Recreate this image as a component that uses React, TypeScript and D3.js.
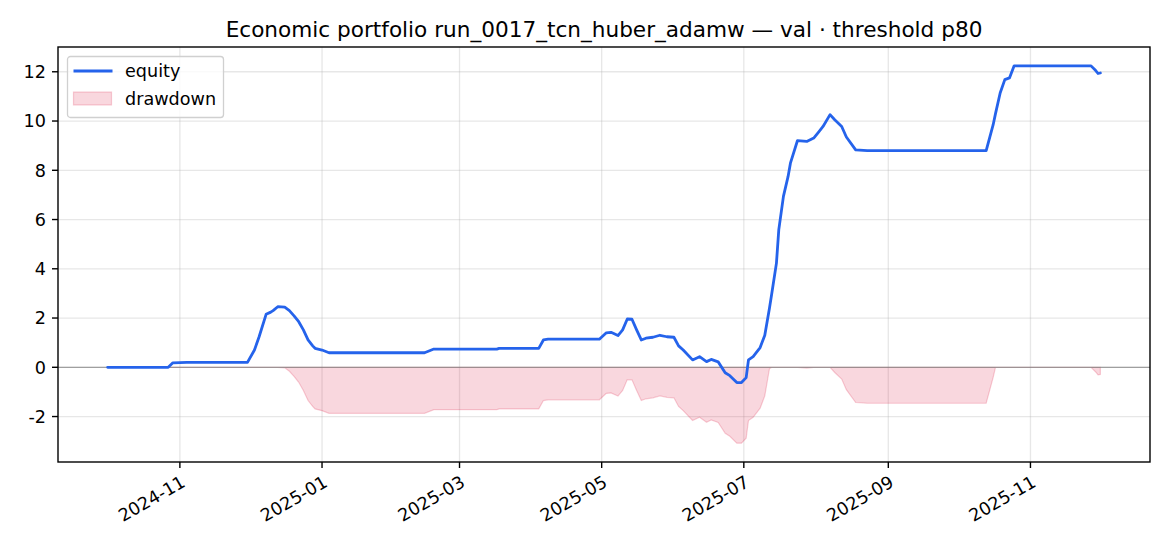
import React, { useEffect, useRef } from "react";
import * as d3 from "d3";

const dates = [
  "2024-10-01", "2024-10-27", "2024-10-29", "2024-11-04", "2024-11-30",
  "2024-12-03", "2024-12-05", "2024-12-08", "2024-12-10", "2024-12-11",
  "2024-12-13", "2024-12-16", "2024-12-18", "2024-12-20", "2024-12-22",
  "2024-12-24", "2024-12-26", "2024-12-28", "2024-12-29", "2025-01-01",
  "2025-01-04", "2025-02-14", "2025-02-18", "2025-03-17", "2025-03-18",
  "2025-04-04", "2025-04-06", "2025-04-08", "2025-04-30", "2025-05-03",
  "2025-05-05", "2025-05-08", "2025-05-10", "2025-05-12", "2025-05-14",
  "2025-05-16", "2025-05-18", "2025-05-20", "2025-05-23", "2025-05-26",
  "2025-05-29", "2025-06-01", "2025-06-03", "2025-06-05", "2025-06-09",
  "2025-06-12", "2025-06-15", "2025-06-17", "2025-06-20", "2025-06-23",
  "2025-06-25", "2025-06-28", "2025-06-30", "2025-07-02", "2025-07-03",
  "2025-07-05", "2025-07-08", "2025-07-10", "2025-07-12", "2025-07-13",
  "2025-07-15", "2025-07-16", "2025-07-18", "2025-07-20", "2025-07-21",
  "2025-07-24", "2025-07-28", "2025-07-31", "2025-08-02", "2025-08-04",
  "2025-08-07", "2025-08-09", "2025-08-12", "2025-08-14", "2025-08-18",
  "2025-08-23", "2025-10-13", "2025-10-16", "2025-10-17", "2025-10-19",
  "2025-10-21", "2025-10-23", "2025-10-25", "2025-11-27", "2025-11-29",
  "2025-11-30", "2025-12-01",
];

const equity = [
  0.0, 0.0, 0.18, 0.2, 0.2,
  0.7, 1.24, 2.15, 2.24, 2.3,
  2.46, 2.44, 2.3, 2.09, 1.85,
  1.52, 1.11, 0.87, 0.77, 0.7,
  0.59, 0.59, 0.74, 0.74, 0.77,
  0.77, 1.11, 1.14, 1.14, 1.4,
  1.42, 1.29, 1.52, 1.96, 1.95,
  1.52, 1.11, 1.18, 1.22, 1.3,
  1.24, 1.22, 0.87, 0.7, 0.3,
  0.43, 0.23, 0.32, 0.22, -0.22,
  -0.34, -0.62, -0.62, -0.42, 0.3,
  0.43, 0.8, 1.3, 2.4, 3.0,
  4.23, 5.58, 6.94, 7.75, 8.29,
  9.2, 9.17, 9.31, 9.54, 9.78,
  10.26, 10.05, 9.78, 9.35, 8.83,
  8.8, 8.8, 9.85, 10.3, 11.14,
  11.68, 11.75, 12.24, 12.24, 12.05,
  11.93, 11.95,
];

const drawdown = [
  0, 0, 0, 0, 0,
  0, 0, 0, 0, 0,
  0, -0.02, -0.16, -0.37, -0.61,
  -0.94, -1.35, -1.59, -1.69, -1.76,
  -1.87, -1.87, -1.72, -1.72, -1.69,
  -1.69, -1.35, -1.32, -1.32, -1.06,
  -1.04, -1.17, -0.94, -0.5, -0.51,
  -0.94, -1.35, -1.28, -1.24, -1.16,
  -1.22, -1.24, -1.59, -1.76, -2.16,
  -2.03, -2.23, -2.14, -2.24, -2.68,
  -2.8, -3.08, -3.08, -2.88, -2.16,
  -2.03, -1.66, -1.16, -0.06, 0,
  0, 0, 0, 0, 0,
  0, -0.03, 0, 0, 0,
  0, -0.21, -0.48, -0.91, -1.43,
  -1.46, -1.46, -0.41, 0, 0,
  0, 0, 0, 0, -0.19,
  -0.31, -0.29,
];

const xTickLabels = ["2024-11", "2025-01", "2025-03", "2025-05", "2025-07", "2025-09", "2025-11"];
const yTicks = [-2, 0, 2, 4, 6, 8, 10, 12];

const title = "Economic portfolio run_0017_tcn_huber_adamw — val · threshold p80";

export default function App() {
  const svgRef = useRef<SVGSVGElement>(null);

  useEffect(() => {
    const W = 1170;
    const H = 546;
    const margin = { top: 47, right: 20, bottom: 84, left: 58 };
    const width = W - margin.left - margin.right;
    const height = H - margin.top - margin.bottom;
    const font = "DejaVu Sans, sans-serif";
    const fs = "17.6px";

    const parse = d3.timeParse("%Y-%m-%d");
    const parseMonth = d3.timeParse("%Y-%m");
    const pts = dates.map((d, i) => ({
      date: parse(d) as Date,
      eq: equity[i],
      dd: drawdown[i],
    }));

    d3.select(svgRef.current).selectAll("*").remove();
    const root = d3.select(svgRef.current);
    root.append("rect").attr("width", W).attr("height", H).attr("fill", "#fff");

    const svg = root
      .append("g")
      .attr("transform", `translate(${margin.left},${margin.top})`);

    // matplotlib-like 5% margins
    const [t0, t1] = d3.extent(pts, (d) => d.date.getTime()) as [number, number];
    const tPad = (t1 - t0) * 0.05;
    const x = d3
      .scaleTime()
      .domain([new Date(t0 - tPad), new Date(t1 + tPad)])
      .range([0, width]);

    const yMin = d3.min(drawdown) as number;
    const yMax = d3.max(equity) as number;
    const yPad = (yMax - yMin) * 0.05;
    const y = d3.scaleLinear().domain([yMin - yPad, yMax + yPad]).range([height, 0]);

    const xTicks = xTickLabels.map((s) => parseMonth(s) as Date);

    // grid
    const grid = svg.append("g");
    grid
      .selectAll("line.gx")
      .data(xTicks)
      .join("line")
      .attr("x1", (d) => x(d))
      .attr("x2", (d) => x(d))
      .attr("y1", 0)
      .attr("y2", height)
      .attr("stroke", "#b0b0b0")
      .attr("stroke-opacity", 0.3)
      .attr("stroke-width", 1.3);
    grid
      .selectAll("line.gy")
      .data(yTicks)
      .join("line")
      .attr("x1", 0)
      .attr("x2", width)
      .attr("y1", (d) => y(d))
      .attr("y2", (d) => y(d))
      .attr("stroke", "#b0b0b0")
      .attr("stroke-opacity", 0.3)
      .attr("stroke-width", 1.3);

    // drawdown area
    const area = d3
      .area<(typeof pts)[number]>()
      .x((d) => x(d.date))
      .y0(y(0))
      .y1((d) => y(d.dd));
    svg
      .append("path")
      .datum(pts)
      .attr("d", area)
      .attr("fill", "#dc143c")
      .attr("fill-opacity", 0.17)
      .attr("stroke", "#dc143c")
      .attr("stroke-opacity", 0.2)
      .attr("stroke-width", 1.2);

    // zero line
    svg
      .append("line")
      .attr("x1", 0)
      .attr("x2", width)
      .attr("y1", y(0))
      .attr("y2", y(0))
      .attr("stroke", "#808080")
      .attr("stroke-opacity", 0.7)
      .attr("stroke-width", 1.3);

    // equity line
    const line = d3
      .line<(typeof pts)[number]>()
      .x((d) => x(d.date))
      .y((d) => y(d.eq));
    svg
      .append("path")
      .datum(pts)
      .attr("d", line)
      .attr("fill", "none")
      .attr("stroke", "#2563eb")
      .attr("stroke-width", 2.8)
      .attr("stroke-linejoin", "round")
      .attr("stroke-linecap", "round");

    // frame
    svg
      .append("rect")
      .attr("width", width)
      .attr("height", height)
      .attr("fill", "none")
      .attr("stroke", "#000")
      .attr("stroke-width", 1.4);

    // y ticks
    const yAx = svg.append("g");
    yTicks.forEach((v) => {
      yAx
        .append("line")
        .attr("x1", -6)
        .attr("x2", 0)
        .attr("y1", y(v))
        .attr("y2", y(v))
        .attr("stroke", "#000")
        .attr("stroke-width", 1.4);
      yAx
        .append("text")
        .attr("x", -12)
        .attr("y", y(v))
        .attr("dy", "0.36em")
        .attr("text-anchor", "end")
        .style("font-family", font)
        .style("font-size", fs)
        .text(String(v));
    });

    // x ticks
    const xAx = svg.append("g");
    xTicks.forEach((d, i) => {
      xAx
        .append("line")
        .attr("x1", x(d))
        .attr("x2", x(d))
        .attr("y1", height)
        .attr("y2", height + 6)
        .attr("stroke", "#000")
        .attr("stroke-width", 1.4);
      xAx
        .append("text")
        .attr("transform", `translate(${x(d)},${height + 12}) rotate(-30)`)
        .attr("dy", "0.76em")
        .attr("text-anchor", "end")
        .style("font-family", font)
        .style("font-size", fs)
        .text(xTickLabels[i]);
    });

    // title
    root
      .append("text")
      .attr("x", margin.left + width / 2)
      .attr("y", 36.5)
      .attr("text-anchor", "middle")
      .style("font-family", font)
      .style("font-size", "21.6px")
      .text(title);

    // legend
    const legend = root.append("g").attr("transform", "translate(67.5,56.5)");
    legend
      .append("rect")
      .attr("width", 156)
      .attr("height", 61)
      .attr("rx", 3)
      .attr("fill", "#fff")
      .attr("fill-opacity", 0.8)
      .attr("stroke", "#d0d0d0")
      .attr("stroke-width", 1.3);
    legend
      .append("line")
      .attr("x1", 6)
      .attr("x2", 45)
      .attr("y1", 14.5)
      .attr("y2", 14.5)
      .attr("stroke", "#2563eb")
      .attr("stroke-width", 2.8);
    legend
      .append("text")
      .attr("x", 57.5)
      .attr("y", 14.5)
      .attr("dy", "0.36em")
      .style("font-family", font)
      .style("font-size", fs)
      .text("equity");
    legend
      .append("rect")
      .attr("x", 6)
      .attr("y", 35.5)
      .attr("width", 38)
      .attr("height", 13)
      .attr("fill", "#dc143c")
      .attr("fill-opacity", 0.17)
      .attr("stroke", "#dc143c")
      .attr("stroke-opacity", 0.2)
      .attr("stroke-width", 1.2);
    legend
      .append("text")
      .attr("x", 57.5)
      .attr("y", 42)
      .attr("dy", "0.36em")
      .style("font-family", font)
      .style("font-size", fs)
      .text("drawdown");
  }, []);

  return (
    <svg
      ref={svgRef}
      width={1170}
      height={546}
      style={{ position: "absolute", left: 0, top: 0 }}
    />
  );
}
